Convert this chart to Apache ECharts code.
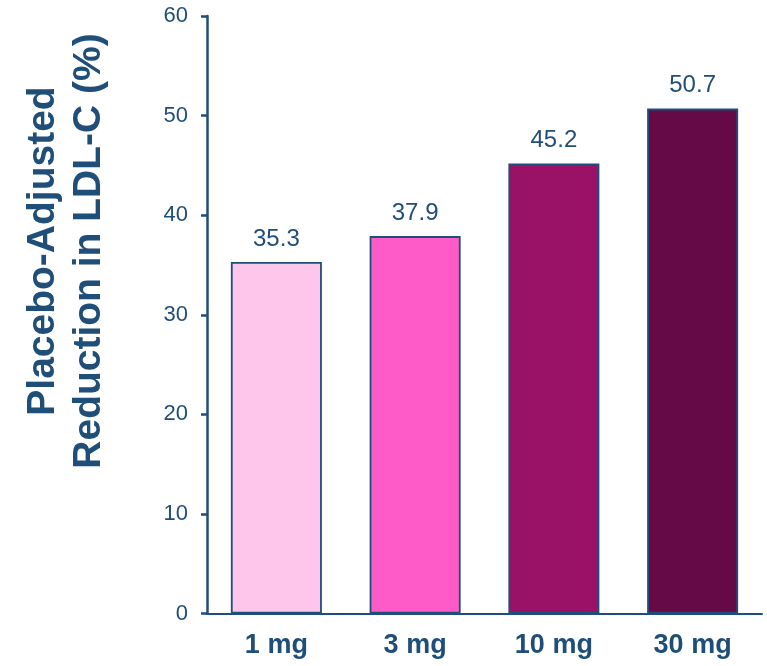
<!DOCTYPE html>
<html>
<head>
<meta charset="utf-8">
<script src="https://cdn.jsdelivr.net/npm/echarts@6/dist/echarts.min.js"></script>
<style>
  html, body { margin: 0; padding: 0; background: #ffffff; }
  #chart { width: 767px; height: 666px; }
</style>
</head>
<body>
<div id="chart"></div>
<script>
// Dose groups and placebo-adjusted LDL-C reduction (%)
const doses = ['1 mg', '3 mg', '10 mg', '30 mg'];
const reductions = [35.3, 37.9, 45.2, 50.7];
const barColors = ['#FFC6EB', '#FF5BC8', '#991268', '#650A46'];
const yTicks = { min: 0, max: 60, interval: 10 };
const yTitle = 'Placebo-Adjusted\nReduction in LDL-C (%)';

const navy = '#1F4E79';
const font = '"Liberation Sans", Arial, sans-serif';

const chart = echarts.init(document.getElementById('chart'));

chart.setOption({
  animation: false,
  backgroundColor: '#ffffff',
  grid: { left: 207, right: 5, top: 16, bottom: 52.5, containLabel: false },
  graphic: [{
    type: 'text',
    x: 66,
    y: 251,
    rotation: Math.PI / 2,
    style: {
      text: yTitle,
      font: 'bold 39px ' + font,
      fill: navy,
      align: 'center',
      verticalAlign: 'middle',
      lineHeight: 46
    }
  }],
  xAxis: {
    type: 'category',
    data: doses,
    axisLine: { show: true, lineStyle: { color: navy, width: 2 } },
    axisTick: { show: false },
    axisLabel: {
      color: navy,
      fontFamily: font,
      fontWeight: 'bold',
      fontSize: 27,
      margin: 19
    },
    splitLine: { show: false }
  },
  yAxis: {
    type: 'value',
    min: yTicks.min,
    max: yTicks.max,
    interval: yTicks.interval,
    axisLine: { show: true, lineStyle: { color: navy, width: 2.5 } },
    axisTick: { show: true, length: 6, lineStyle: { color: navy, width: 2.5 } },
    axisLabel: {
      color: navy,
      fontFamily: font,
      fontSize: 22,
      margin: 19
    },
    splitLine: { show: false }
  },
  series: [{
    type: 'bar',
    data: reductions.map((v, i) => ({
      value: v,
      itemStyle: { color: barColors[i] }
    })),
    barWidth: 91,
    itemStyle: { borderColor: navy, borderWidth: 1.8 },
    label: {
      show: true,
      position: 'top',
      distance: 11,
      color: navy,
      fontFamily: font,
      fontSize: 24,
      formatter: (p) => p.value.toFixed(1)
    }
  }]
});
</script>
</body>
</html>
